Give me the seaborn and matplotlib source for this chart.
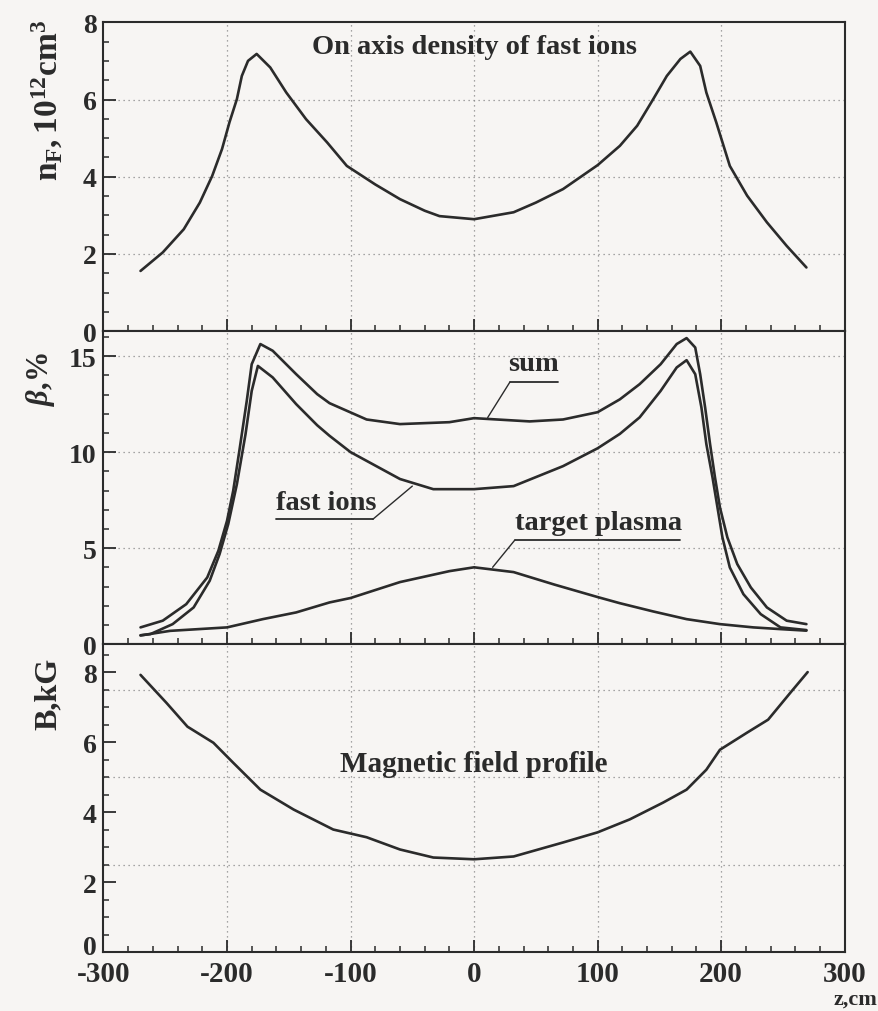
import numpy as np
import pandas as pd
import matplotlib
matplotlib.use("Agg")
import matplotlib.pyplot as plt
import matplotlib.transforms as mtransforms
import seaborn as sns
from matplotlib.ticker import MultipleLocator

# ---------------- data ----------------
z_nf = [-270, -252, -235, -222, -212, -204, -198, -192, -188, -183, -176, -165, -152, -136,
        -119, -103, -80, -60, -40, -28, 0, 32, 50, 72, 100, 118, 132, 145, 156, 167, 175,
        183, 188, 196, 207, 221, 237, 253, 269]
nf = [1.56, 2.04, 2.64, 3.33, 4.02, 4.72, 5.41, 6.01, 6.61, 7.0, 7.18, 6.83, 6.18, 5.49,
      4.89, 4.28, 3.8, 3.42, 3.12, 2.98, 2.9, 3.08, 3.33, 3.68, 4.3, 4.8, 5.32, 6.01, 6.61,
      7.05, 7.24, 6.87, 6.18, 5.41, 4.28, 3.51, 2.82, 2.21, 1.65]

z_sum = [-270, -252, -233, -216, -207, -200, -195, -190, -184, -180, -173, -163, -144, -127,
         -117, -87, -60, -20, 0, 45, 72, 100, 118, 134, 151, 164, 172, 179, 183, 187, 191,
         195, 199, 205, 213, 224, 237, 253, 269]
beta_sum = [0.87, 1.22, 2.08, 3.47, 4.86, 6.42, 7.98, 10.07, 12.67, 14.58, 15.63, 15.28, 14.06,
            13.02, 12.55, 11.7, 11.46, 11.56, 11.77, 11.6, 11.7, 12.08, 12.75, 13.54, 14.58,
            15.63, 15.94, 15.45, 14.06, 12.33, 10.42, 8.68, 7.12, 5.56, 4.17, 2.95, 1.91,
            1.22, 1.04]

z_fast = [-270, -262, -244, -227, -214, -206, -199, -192, -185, -180, -175, -163, -144, -127,
          -117, -100, -60, -33, 0, 32, 72, 100, 118, 134, 151, 164, 172, 179, 184, 188, 193,
          197, 201, 207, 218, 232, 248, 269]
beta_fast = [0.46, 0.52, 1.04, 1.91, 3.3, 4.69, 6.25, 8.33, 10.94, 13.19, 14.49, 13.89, 12.5,
             11.4, 10.85, 10.0, 8.6, 8.07, 8.07, 8.23, 9.27, 10.2, 10.95, 11.81, 13.19, 14.41,
             14.79, 14.06, 12.33, 10.42, 8.68, 7.12, 5.56, 3.99, 2.6, 1.56, 0.87, 0.73]

z_target = [-270, -246, -200, -171, -144, -117, -100, -60, -20, 0, 32, 65, 100, 118, 145, 172,
            199, 226, 248, 269]
beta_target = [0.45, 0.69, 0.87, 1.3, 1.65, 2.17, 2.4, 3.23, 3.8, 4.0, 3.75, 3.1, 2.45, 2.13,
               1.7, 1.3, 1.04, 0.87, 0.78, 0.7]

z_b = [-270, -249, -232, -211, -195, -173, -146, -114, -87, -60, -33, 0,
       32, 72, 100, 126, 153, 172, 188, 199, 221, 238, 256, 270]
b_field = [7.92, 7.12, 6.44, 5.98, 5.41, 4.64, 4.07, 3.5, 3.28, 2.93, 2.7, 2.65,
           2.73, 3.13, 3.42, 3.79, 4.27, 4.64, 5.21, 5.78, 6.27, 6.64, 7.41, 8.0]

x_ticks = [-300, -200, -100, 0, 100, 200, 300]
nf_ticks = [0, 2, 4, 6, 8]
beta_ticks = [0, 5, 10, 15]
b_ticks = [0, 2, 4, 6, 8]

# ---------------- style ----------------
sns.set_style("white")
plt.rcParams["font.family"] = ["Liberation Serif", "DejaVu Serif"]
plt.rcParams["font.weight"] = "bold"
plt.rcParams["mathtext.fontset"] = "custom"
plt.rcParams["mathtext.rm"] = "Liberation Serif:bold"
plt.rcParams["mathtext.it"] = "Liberation Serif:bold:italic"
plt.rcParams["mathtext.bf"] = "Liberation Serif:bold"
plt.rcParams["axes.unicode_minus"] = False

bg = "#f7f5f3"
ink = "#2b2b2b"
fs_text = 20.5
fs_ytick = 20
fs_xtick = 21
fs_ylab = 22

fig = plt.figure(figsize=(8.79, 10.12), dpi=100, facecolor=bg)
gs = fig.add_gridspec(3, 1, left=0.1177, right=0.961, top=0.977, bottom=0.0583,
                      hspace=0, height_ratios=[309, 313, 308])
axes = [fig.add_subplot(gs[i]) for i in range(3)]

def style_axis(ax, ylim, yticks, yminor, grid_y):
    ax.set_facecolor(bg)
    ax.set_xlim(-300, 300)
    ax.set_ylim(*ylim)
    ax.set_xticks(x_ticks)
    ax.xaxis.set_minor_locator(MultipleLocator(20))
    ax.set_yticks(yticks)
    ax.yaxis.set_minor_locator(MultipleLocator(yminor))
    ax.tick_params(axis="both", which="both", bottom=True, left=True, top=False, right=False)
    ax.tick_params(axis="both", which="major", direction="in", length=9, width=1.3,
                   color=ink, labelcolor=ink)
    ax.tick_params(axis="y", which="major", labelsize=fs_ytick, pad=5)
    ax.tick_params(axis="x", which="major", labelsize=fs_xtick, pad=6)
    ax.tick_params(axis="both", which="minor", direction="in", length=4.5, width=1.1, color=ink)
    for s in ax.spines.values():
        s.set_color(ink)
        s.set_linewidth(1.5)
    for gx in [-200, -100, 0, 100, 200]:
        ax.axvline(gx, color="#8a8a8a", lw=0.9, ls=(0, (1, 3)), zorder=0)
    for gyv in grid_y:
        ax.axhline(gyv, color="#8a8a8a", lw=0.9, ls=(0, (1, 3)), zorder=0)
    ax.set_xlabel("")
    ax.set_ylabel("")
    for lab in ax.get_yticklabels() + ax.get_xticklabels():
        lab.set_fontweight("bold")

# ---- top panel ----
ax = axes[0]
df1 = pd.DataFrame({"z": z_nf, "n": nf})
sns.lineplot(data=df1, x="z", y="n", ax=ax, color=ink, lw=1.9, estimator=None, sort=False)
style_axis(ax, (0, 8), nf_ticks, 0.5, [2, 4, 6])
ax.tick_params(labelbottom=False)
ax.text(0, 7.38, "On axis density of fast ions", ha="center", va="center",
        fontsize=fs_text, fontweight="bold", color=ink)
ax.text(-0.075, 1.01, r"$\mathrm{n}_{\mathrm{F}}\mathrm{,10^{12}cm^{3}}$", transform=ax.transAxes,
        rotation=90, ha="center", va="top", fontsize=fs_ylab + 2, color=ink)

# ---- middle panel ----
ax = axes[1]
df2 = pd.concat([
    pd.DataFrame({"z": z_sum, "beta": beta_sum, "series": "sum"}),
    pd.DataFrame({"z": z_fast, "beta": beta_fast, "series": "fast ions"}),
    pd.DataFrame({"z": z_target, "beta": beta_target, "series": "target plasma"}),
])
sns.lineplot(data=df2, x="z", y="beta", units="series", ax=ax, color=ink, lw=1.9,
             estimator=None, sort=False, legend=False)
style_axis(ax, (0, 16.3), beta_ticks, 1, [5, 10, 15])
ax.tick_params(labelbottom=False)
ax.text(-0.085, 0.935, r"$\mathit{\beta}$,%", transform=ax.transAxes,
        rotation=90, ha="center", va="top", fontsize=fs_ylab, color=ink)

# annotations with underline and leader lines
ax.text(48, 13.95, "sum", ha="center", va="bottom", fontsize=fs_text, fontweight="bold", color=ink)
ax.plot([29, 68], [13.65, 13.65], color=ink, lw=1.3)
ax.plot([29, 11], [13.65, 11.8], color=ink, lw=1.0)

ax.text(-120, 6.75, "fast ions", ha="center", va="bottom", fontsize=fs_text, fontweight="bold", color=ink)
ax.plot([-160, -82], [6.5, 6.5], color=ink, lw=1.3)
ax.plot([-82, -50], [6.5, 8.23], color=ink, lw=1.0)

ax.text(101, 5.7, "target plasma", ha="center", va="bottom", fontsize=fs_text, fontweight="bold", color=ink)
ax.plot([33, 167], [5.42, 5.42], color=ink, lw=1.3)
ax.plot([33, 15], [5.42, 4.0], color=ink, lw=1.0)

# ---- bottom panel ----
ax = axes[2]
df3 = pd.DataFrame({"z": z_b, "B": b_field})
sns.lineplot(data=df3, x="z", y="B", ax=ax, color=ink, lw=1.9, estimator=None, sort=False)
style_axis(ax, (0, 8.8), b_ticks, 0.5, [2.5, 5, 7.5])
ax.set_xticklabels([str(t) for t in x_ticks])
for lab in ax.get_xticklabels():
    lab.set_fontweight("bold")
ax.text(0, 5.4, "Magnetic field profile", ha="center", va="center",
        fontsize=fs_text + 0.5, fontweight="bold", color=ink)
ax.text(-0.075, 0.96, "B,kG", transform=ax.transAxes,
        rotation=90, ha="center", va="top", fontsize=fs_ylab + 1, fontweight="bold", color=ink)

# lift the lowest y label of the bottom panel a little (as in the reference)
zero_tick = ax.yaxis.get_major_ticks()[0]
zero_tick.label1.set_verticalalignment("bottom")
zero_tick.label1.set_transform(zero_tick.label1.get_transform() +
                               mtransforms.ScaledTranslation(0, -6 / 72, fig.dpi_scale_trans))

fig.text(0.998, 0.002, "z,cm", ha="right", va="bottom", fontsize=16, fontweight="bold", color=ink)

fig.savefig("out.png", dpi=100, facecolor=bg)
